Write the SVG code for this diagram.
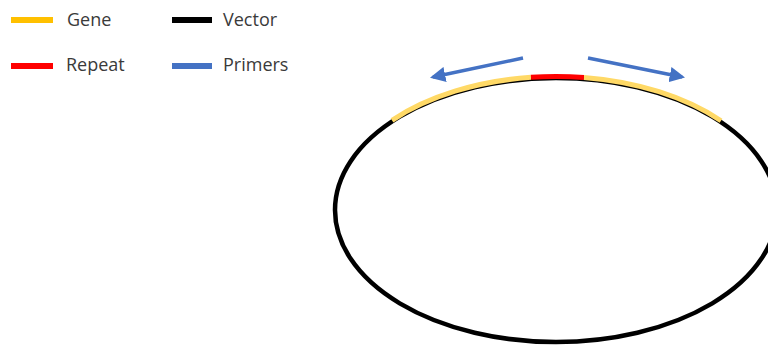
<svg xmlns="http://www.w3.org/2000/svg" width="768" height="345" viewBox="0 0 768 345">
  <style>
    .lbl { font-family: "Open Sans", "Liberation Sans", sans-serif; font-size: 18px; fill: #3a3a3a; }
    .key { stroke-width: 6; fill: none; }
    .gene { stroke: #FFD966; stroke-width: 5; fill: none; }
    .repeat { stroke: #FF0000; stroke-width: 5; fill: none; }
    .vector { stroke: #000000; stroke-width: 4.5; fill: none; }
    .primer { stroke: #4472C4; stroke-width: 3.5; fill: none; }
  </style>
  <defs>
    <marker id="head" viewBox="0 0 10 10" refX="8" refY="5" markerWidth="4.4" markerHeight="4.4" orient="auto" markerUnits="strokeWidth">
      <path d="M0,0 L10,5 L0,10 Z" fill="#4472C4"/>
    </marker>
  </defs>

  <g id="legend">
    <g id="legend-gene">
      <line class="key" x1="11" y1="20" x2="53" y2="20" stroke="#FFC000"/>
      <text class="lbl" x="67" y="26">Gene</text>
    </g>
    <g id="legend-vector">
      <line class="key" x1="172" y1="20" x2="212" y2="20" stroke="#000000"/>
      <text class="lbl" x="223" y="26">Vector</text>
    </g>
    <g id="legend-repeat">
      <line class="key" x1="11" y1="66" x2="53" y2="66" stroke="#FF0000"/>
      <text class="lbl" x="66" y="71">Repeat</text>
    </g>
    <g id="legend-primers">
      <line class="key" x1="172" y1="66" x2="212" y2="66" stroke="#4472C4"/>
      <text class="lbl" x="223" y="71">Primers</text>
    </g>
  </g>

  <g id="plasmid">
    <ellipse class="vector" cx="556" cy="210" rx="221" ry="132"/>
    <g transform="translate(0,-1.5)">
      <path id="gene-left" class="gene" d="M392,121.8 A221,132 0 0 1 531,78.8"/>
      <path id="repeat" class="repeat" d="M531,78.8 A221,132 0 0 1 584,79"/>
      <path id="gene-right" class="gene" d="M584,79 A221,132 0 0 1 721,122.3"/>
    </g>
  </g>

  <g id="primers">
    <line class="primer" x1="523" y1="58" x2="433" y2="77" marker-end="url(#head)"/>
    <line class="primer" x1="588" y1="58" x2="682" y2="77" marker-end="url(#head)"/>
  </g>
</svg>
